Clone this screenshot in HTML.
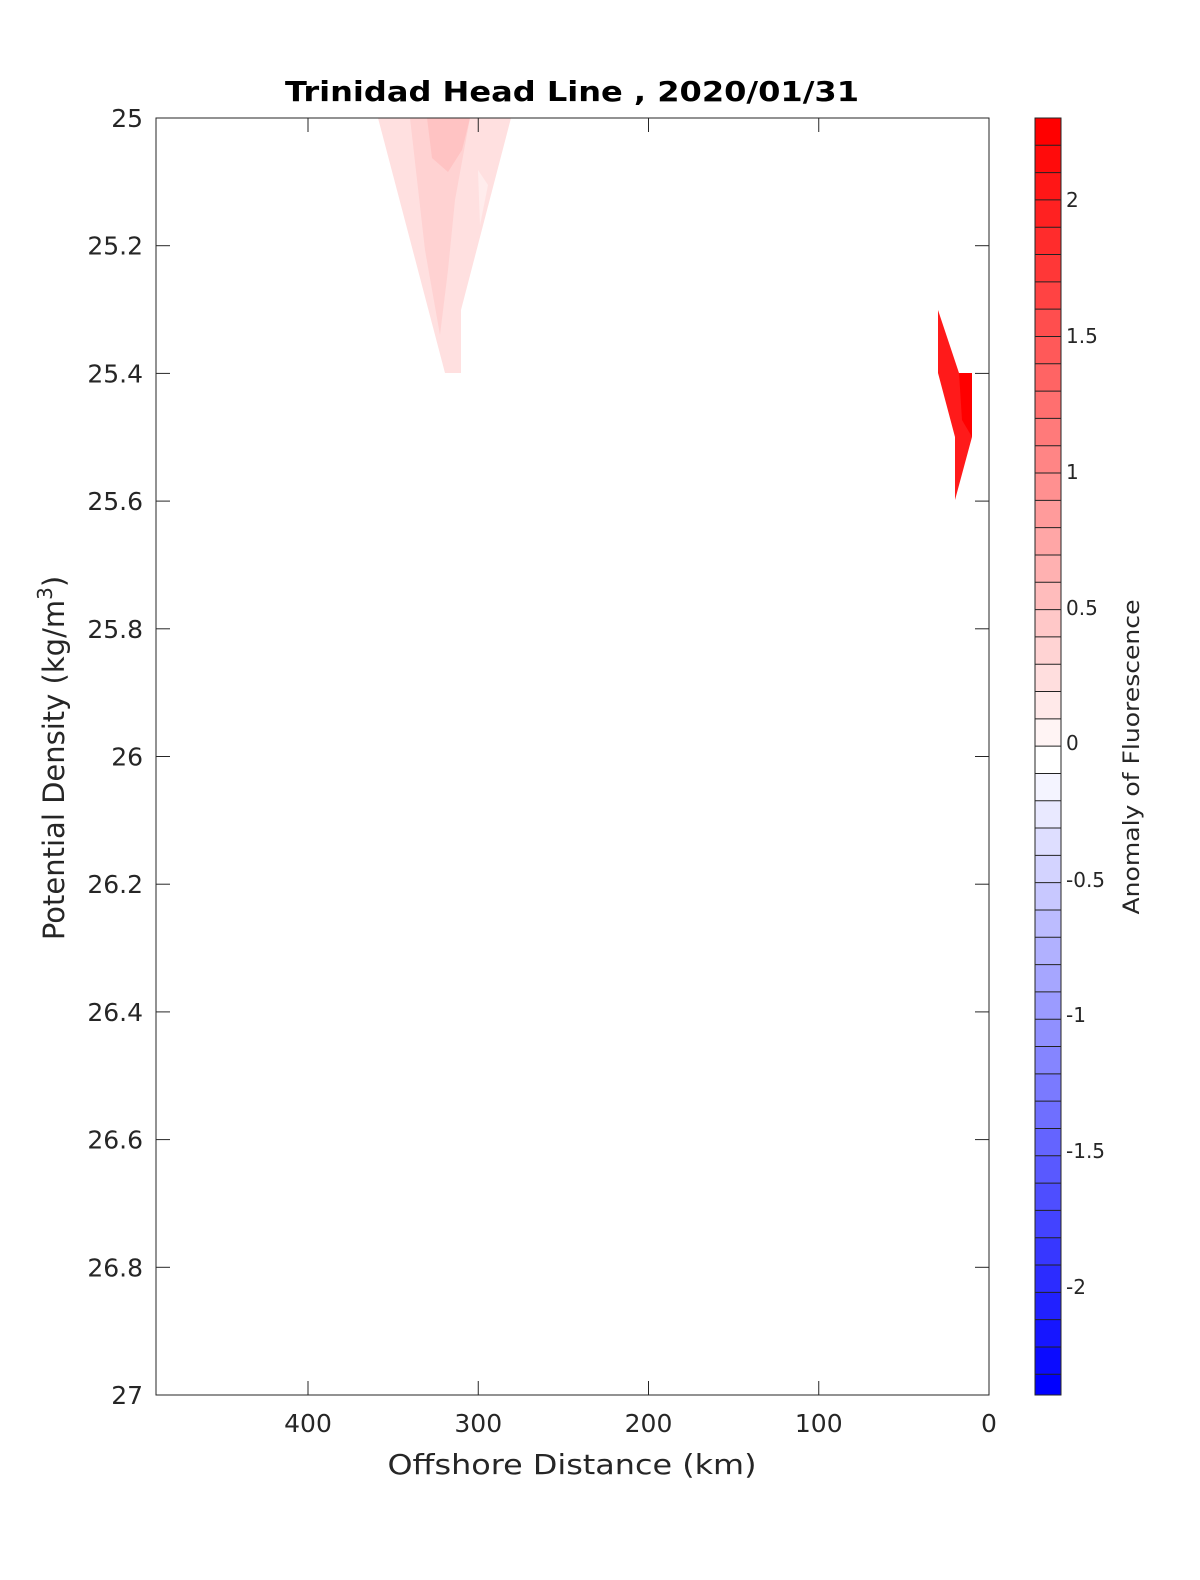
<!DOCTYPE html>
<html><head><meta charset="utf-8"><style>
body{margin:0;background:#fff}
svg text{font-family:"DejaVu Sans","Liberation Sans",sans-serif;fill:#262626}
</style></head><body>
<svg width="1200" height="1575" xmlns="http://www.w3.org/2000/svg">
<rect width="1200" height="1575" fill="#fff"/>
<polygon points="378,118 511,118 461,310 461,373 445,373" fill="#ffe0e0"/>
<polygon points="410,118 470,118 455,200 448,270 440,335 425,250" fill="#ffd2d2"/>
<polygon points="427,118 470,118 462,150 448,172 432,158" fill="#ffc3c3"/>
<polygon points="478,170 488,185 480,225" fill="#ffecec"/>
<polygon points="938,310 959,373 972,373 972,437 955,500 955,437 938,373" fill="#ff1a1a"/>
<polygon points="959,373 972,373 972,437 962,420" fill="#ff0000"/>
<rect x="156" y="118" width="833" height="1277" fill="none" stroke="#262626" stroke-width="1"/>
<g stroke="#262626" stroke-width="1" id="ticks"></g>
<g font-size="25" text-anchor="end" id="ylab"></g>
<g font-size="25" text-anchor="middle" id="xlab"></g>
<text x="572" y="101" font-size="28" font-weight="bold" text-anchor="middle" textLength="574" lengthAdjust="spacingAndGlyphs" style="fill:#000">Trinidad Head Line , 2020/01/31</text>
<text x="572" y="1474" font-size="28" text-anchor="middle" textLength="369" lengthAdjust="spacingAndGlyphs">Offshore Distance (km)</text>
<text transform="translate(64,758) rotate(-90)" font-size="29" text-anchor="middle">Potential Density (kg/m<tspan dy="-12" font-size="20">3</tspan><tspan dy="12">)</tspan></text>
<g id="cb"></g>
<rect x="1035" y="118" width="26" height="1277" fill="none" stroke="#262626"/>
<g font-size="20" id="cblab"></g>
<text transform="translate(1139,757) rotate(-90)" font-size="22" text-anchor="middle" textLength="315" lengthAdjust="spacingAndGlyphs">Anomaly of Fluorescence</text>
</svg>
<script>
var ns="http://www.w3.org/2000/svg";
function el(p,t,a,txt){var e=document.createElementNS(ns,t);for(var k in a)e.setAttribute(k,a[k]);if(txt!==undefined)e.textContent=txt;document.getElementById(p).appendChild(e);}
var yl=["25","25.2","25.4","25.6","25.8","26","26.2","26.4","26.6","26.8","27"];
for(var i=0;i<11;i++){var y=118+i*127.7;
 el("ticks","line",{x1:156,x2:170,y1:y,y2:y});el("ticks","line",{x1:975,x2:989,y1:y,y2:y});
 el("ylab","text",{x:143,y:y+9},yl[i]);}
for(var d=0;d<=400;d+=100){var x=989-d*1.7025;
 el("ticks","line",{x1:x,x2:x,y1:1395,y2:1381});el("ticks","line",{x1:x,x2:x,y1:118,y2:132});
 el("xlab","text",{x:x,y:1432},String(d));}
for(var k=0;k<47;k++){var y0=118+k*27.31,y1=Math.min(1395,y0+27.31),c;
 if(k<23){var t=(23-k)/23,v=Math.round(255*(1-t));c="rgb(255,"+v+","+v+")";}
 else{var t=(k-23)/23,v=Math.round(255*(1-t));c="rgb("+v+","+v+",255)";}
 el("cb","rect",{x:1035,y:y0,width:26,height:y1-y0,fill:c});
 if(k>0)el("cb","line",{x1:1035,x2:1061,y1:y0,y2:y0,stroke:"#222","stroke-width":1});}
var cl=[["2",200],["1.5",336],["1",472],["0.5",608],["0",743],["-0.5",880],["-1",1015],["-1.5",1151],["-2",1287]];
cl.forEach(function(a){el("cblab","text",{x:1066,y:a[1]+7},a[0]);});
</script>
</body></html>
